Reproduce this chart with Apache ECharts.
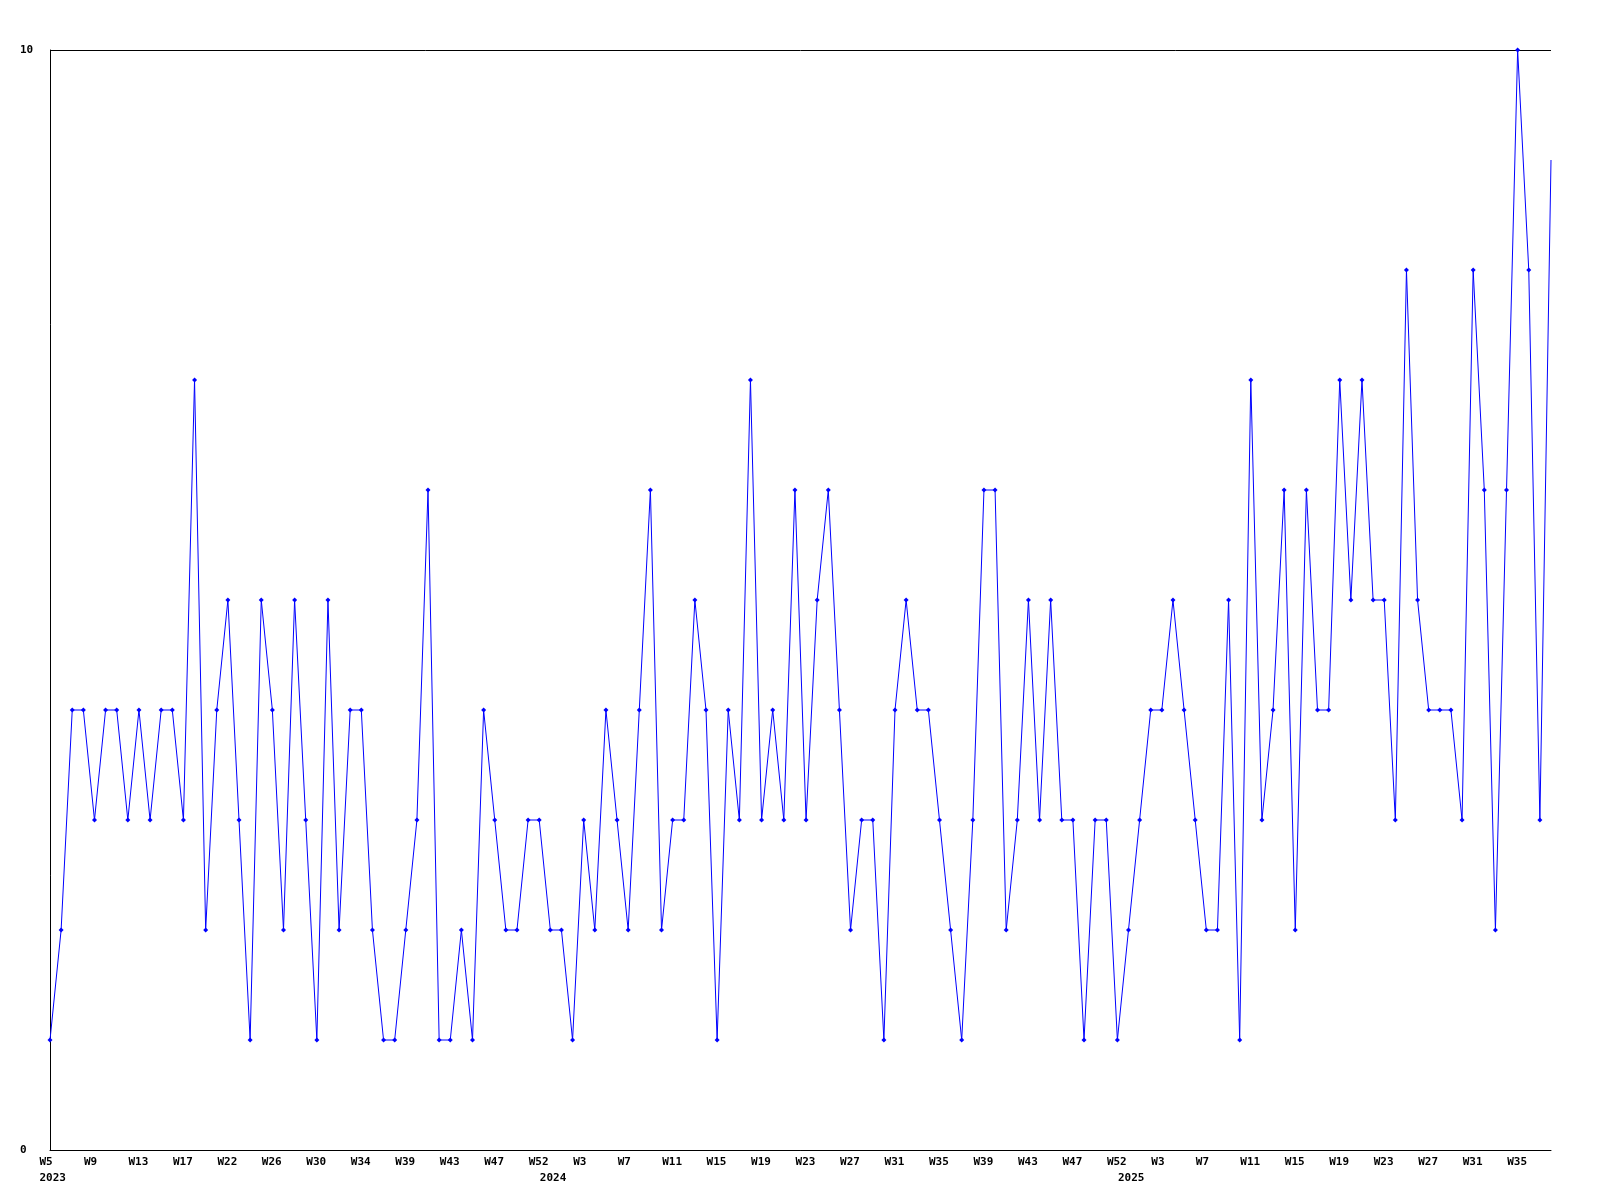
<!DOCTYPE html>
<html>
<head>
<meta charset="utf-8">
<script src="https://cdn.jsdelivr.net/npm/echarts@6/dist/echarts.min.js"></script>
<style>
html,body{margin:0;padding:0;background:#fff;}
#chart{width:1600px;height:1200px;}
</style>
</head>
<body>
<div id="chart"></div>
<script>
const weeks2023 = ['W5','W6','W7','W8','W9','W10','W11','W12','W13','W14','W15','W16','W17','W18','W19','W20',
  'W22','W23','W24','W25','W26','W27','W28','W29','W30','W31','W32','W33','W34','W35','W36','W37',
  'W39','W40','W41','W42','W43','W44','W45','W46','W47','W48','W49','W50','W52'];
const weeks2024 = ['W0','W1','W2','W3','W4','W5','W6','W7','W8','W9','W10','W11','W12','W13','W14','W15','W16',
  'W17','W18','W19','W20','W21','W22','W23','W24','W25','W26','W27','W28','W29','W30','W31','W32','W33',
  'W34','W35','W36','W37','W38','W39','W40','W41','W42','W43','W44','W45','W46','W47','W48','W49','W50','W52'];
const weeks2025 = ['W0','W1','W2','W3','W4','W5','W6','W7','W8','W9','W10','W11','W12','W13','W14','W15','W16',
  'W17','W18','W19','W20','W21','W22','W23','W24','W25','W26','W27','W28','W29','W30','W31','W32','W33',
  'W34','W35','W36','W37','W38'];

const values2023 = [1,2,4,4,3,4,4,3,4,3,4,4,3, 7,2,4,5,3,1,5,4,2,5,3,1, 5,2,4,4,2,1,1,2,3,6,1, 1,2,1,4,3,2,2,3,3];
const values2024 = [2,2,1, 3,2,4,3,2,4,6,2,3,3,5,4, 1,4,3,7,3,4,3,6,3,5,6,4, 2,3,3,1,4,5,4,4,3,2,1,3, 6,6,2,3,5,3,5,3,3,1,3,3, 1];
const values2025 = [2,3,4,4,5,4,3,2,2,5,1, 7,3,4,6,2,6,4,4,7,5,7,5, 5,3,8,5,4,4,4,3,8,6,2,6, 10,8,3,9];

const yTicks = [0, 10];

const years = [['2023', weeks2023], ['2024', weeks2024], ['2025', weeks2025]];
const categories = [];
const weekOf = [];
const yearOf = [];
const yearStart = new Set();
years.forEach(([y, ws]) => {
  yearStart.add(categories.length);
  ws.forEach(w => { categories.push(y + '-' + w); weekOf.push(w); yearOf.push(y); });
});
const values = values2023.concat(values2024, values2025);
const seriesData = values.map((v, i) => i === values.length - 1 ? { value: v, symbol: 'none' } : v);

const font = { fontFamily: 'DejaVu Sans Mono', fontWeight: 'bold', fontSize: 11, color: '#000' };
const richLeft = { t: Object.assign({}, font, { align: 'left' }) };

const chart = echarts.init(document.getElementById('chart'), null, { renderer: 'canvas' });
chart.setOption({
  animation: false,
  backgroundColor: '#fff',
  grid: { left: 50, right: 49, top: 50, bottom: 50, containLabel: false },
  xAxis: [
    {
      type: 'category',
      data: categories,
      boundaryGap: false,
      axisLine: { show: true, lineStyle: { color: '#000', width: 1 } },
      axisTick: { show: false },
      splitLine: { show: false },
      axisLabel: Object.assign({}, font, {
        margin: 7,
        width: 21,
        align: 'center',
        overflow: 'none',
        hideOverlap: false,
        rich: richLeft,
        interval: (i) => i % 4 === 0,
        formatter: (v, i) => '{t|' + weekOf[i] + '}'
      })
    },
    {
      type: 'category',
      data: categories,
      boundaryGap: false,
      position: 'bottom',
      offset: 16,
      axisLine: { show: false },
      axisTick: { show: false },
      splitLine: { show: false },
      axisLabel: Object.assign({}, font, {
        margin: 7,
        width: 21,
        align: 'center',
        overflow: 'none',
        hideOverlap: false,
        rich: richLeft,
        interval: (i) => yearStart.has(i),
        formatter: (v, i) => '{t|' + yearOf[i] + '}'
      })
    }
  ],
  yAxis: {
    type: 'value',
    min: yTicks[0],
    max: yTicks[yTicks.length - 1],
    interval: yTicks[1] - yTicks[0],
    axisLine: { show: true, lineStyle: { color: '#000', width: 1 } },
    axisTick: { show: false },
    splitLine: { show: true, lineStyle: { color: '#000', width: 1 } },
    axisLabel: Object.assign({}, font, { align: 'left', margin: 30 })
  },
  series: [{
    type: 'line',
    xAxisIndex: 0,
    data: seriesData,
    symbol: 'diamond',
    symbolSize: 5,
    showAllSymbol: true,
    lineStyle: { color: '#0000ff', width: 1 },
    itemStyle: { color: '#0000ff' },
    emphasis: { disabled: true }
  }]
});
</script>
</body>
</html>
